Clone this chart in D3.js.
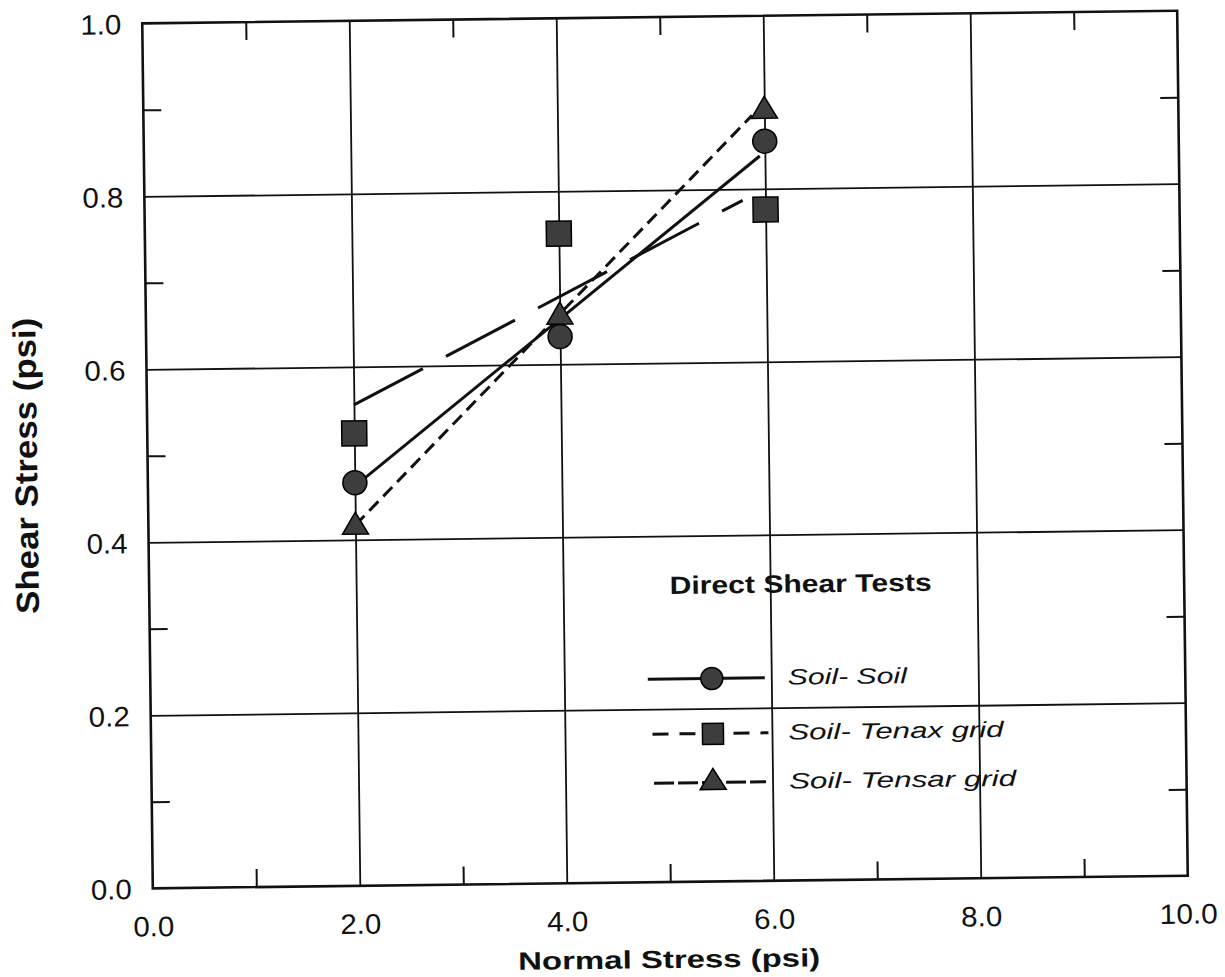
<!DOCTYPE html>
<html lang="en">
<head>
<meta charset="UTF-8">
<title>Direct Shear Tests</title>
<style>
  body { margin: 0; background: #fff; }
  text { font-family: "Liberation Sans", Arial, Helvetica, sans-serif; fill: #111; }
</style>
</head>
<body>
<div id="chart"></div>
<script src="https://d3js.org/d3.v7.min.js"></script>
<script>
// values
const normalStress = [2, 4, 6];
const soilSoil = [0.466, 0.632, 0.855];
const soilTenax = [0.523, 0.751, 0.776];
const soilTensar = [0.415, 0.655, 0.890];

// fitted lines, start and end points
const soilSoilFitX = [2, 5.95], soilSoilFitY = [0.462, 0.838];
const soilTenaxFitX = [2, 5.78], soilTenaxFitY = [0.556, 0.787];
const soilTensarFitX = [2, 5.88], soilTensarFitY = [0.417, 0.885];

const xTicks = [0, 2, 4, 6, 8, 10];
const yTicks = [0, 0.2, 0.4, 0.6, 0.8, 1.0];
const xMinor = [1, 3, 5, 7, 9];
const yMinor = [0.1, 0.3, 0.5, 0.7, 0.9];
const seriesNames = ["Soil- Soil", "Soil- Tenax grid", "Soil- Tensar grid"];

const margin = { left: 147.5, top: 17 },
  width = 1035,
  height = 865;

const svg = d3.select("#chart")
  .append("svg")
  .attr("width", 1225)
  .attr("height", 977);

// the original is a slightly tilted scan
const root = svg.append("g").attr("transform", "rotate(-0.7, 667, 450)");
const g = root.append("g").attr("transform", `translate(${margin.left},${margin.top})`);

const x = d3.scaleLinear().domain([0, 10]).range([0, width]);
const y = d3.scaleLinear().domain([0, 1]).range([height, 0]);

function clean(sel) {
  sel.select(".domain").remove();
  sel.selectAll("line").attr("stroke", "#111");
}

// grid lines
g.append("g")
  .call(d3.axisBottom(x).tickValues([2, 4, 6, 8]).tickSize(height).tickFormat(""))
  .call(clean)
  .selectAll("line").attr("stroke-width", 1.8);
g.append("g")
  .call(d3.axisLeft(y).tickValues([0.2, 0.4, 0.6, 0.8]).tickSize(-width).tickFormat(""))
  .call(clean)
  .selectAll("line").attr("stroke-width", 1.8);

// minor ticks, pointing inward on all four sides
g.append("g").attr("transform", `translate(0,${height})`)
  .call(d3.axisBottom(x).tickValues(xMinor).tickSize(-18).tickFormat(""))
  .call(clean).selectAll("line").attr("stroke-width", 2);
g.append("g")
  .call(d3.axisTop(x).tickValues(xMinor).tickSize(-18).tickFormat(""))
  .call(clean).selectAll("line").attr("stroke-width", 2);
g.append("g")
  .call(d3.axisLeft(y).tickValues(yMinor).tickSize(-18).tickFormat(""))
  .call(clean).selectAll("line").attr("stroke-width", 2);
g.append("g").attr("transform", `translate(${width},0)`)
  .call(d3.axisRight(y).tickValues(yMinor).tickSize(-18).tickFormat(""))
  .call(clean).selectAll("line").attr("stroke-width", 2);

// frame
g.append("rect")
  .attr("width", width)
  .attr("height", height)
  .attr("fill", "none")
  .attr("stroke", "#111")
  .attr("stroke-width", 2.6);

// tick labels
const xAx = g.append("g").attr("transform", `translate(0,${height})`)
  .call(d3.axisBottom(x).tickValues(xTicks).tickSize(0).tickFormat(d3.format(".1f")))
  .call(clean);
xAx.attr("font-family", null).attr("font-size", null);
xAx.selectAll("text")
  .attr("dy", null)
  .attr("y", 48)
  .style("font-size", "28px")
  .attr("textLength", d => d === 10 ? 58 : 41)
  .attr("lengthAdjust", "spacingAndGlyphs");

const yAx = g.append("g")
  .call(d3.axisLeft(y).tickValues(yTicks).tickSize(0).tickPadding(21).tickFormat(d3.format(".1f")))
  .call(clean);
yAx.attr("font-family", null).attr("font-size", null);
yAx.selectAll("text")
  .attr("dy", "0.36em")
  .style("font-size", "28px")
  .attr("textLength", 41)
  .attr("lengthAdjust", "spacingAndGlyphs");

// axis titles
root.append("text")
  .attr("x", 663)
  .attr("y", 968)
  .attr("text-anchor", "middle")
  .style("font-size", "25px")
  .style("font-weight", "bold")
  .attr("textLength", 302)
  .attr("lengthAdjust", "spacingAndGlyphs")
  .text("Normal Stress (psi)");

root.append("text")
  .attr("transform", "translate(37,458) rotate(-90)")
  .attr("text-anchor", "middle")
  .style("font-size", "32px")
  .style("font-weight", "bold")
  .attr("textLength", 296)
  .attr("lengthAdjust", "spacingAndGlyphs")
  .text("Shear Stress (psi)");

// fitted lines
const line = d3.line().x(d => x(d[0])).y(d => y(d[1]));
const fits = [
  { pts: d3.zip(soilSoilFitX, soilSoilFitY), dash: null },
  { pts: d3.zip(soilTenaxFitX, soilTenaxFitY), dash: "78,26" },
  { pts: d3.zip(soilTensarFitX, soilTensarFitY), dash: "13,7" }
];
g.selectAll(".fit")
  .data(fits)
  .join("path")
  .attr("class", "fit")
  .attr("d", d => line(d.pts))
  .attr("fill", "none")
  .attr("stroke", "#111")
  .attr("stroke-width", 3)
  .attr("stroke-dasharray", d => d.dash);

// markers
const markFill = "#3d3d3d";
function tri(b, h) {
  return `M0,${-h * 2 / 3}L${b / 2},${h / 3}L${-b / 2},${h / 3}Z`;
}

g.selectAll(".sq")
  .data(d3.zip(normalStress, soilTenax))
  .join("rect")
  .attr("x", d => x(d[0]) - 12.5)
  .attr("y", d => y(d[1]) - 12.5)
  .attr("width", 25)
  .attr("height", 25)
  .attr("fill", markFill)
  .attr("stroke", "#000")
  .attr("stroke-width", 1.5);

g.selectAll(".tri")
  .data(d3.zip(normalStress, soilTensar))
  .join("path")
  .attr("transform", d => `translate(${x(d[0])},${y(d[1])})`)
  .attr("d", tri(26, 22))
  .attr("fill", markFill)
  .attr("stroke", "#000")
  .attr("stroke-width", 1.5);

g.selectAll(".dot")
  .data(d3.zip(normalStress, soilSoil))
  .join("circle")
  .attr("cx", d => x(d[0]))
  .attr("cy", d => y(d[1]))
  .attr("r", 12)
  .attr("fill", markFill)
  .attr("stroke", "#000")
  .attr("stroke-width", 1.5);

// legend
root.append("text")
  .attr("x", 799)
  .attr("y", 594)
  .attr("text-anchor", "middle")
  .style("font-size", "25px")
  .style("font-weight", "bold")
  .attr("textLength", 262)
  .attr("lengthAdjust", "spacingAndGlyphs")
  .text("Direct Shear Tests");

const rowY = [679, 734, 783];
const rowLine = [[645, 762, null], [649, 765, "16,11"], [650, 762, "20,4"]];
const rowLen = [119, 215, 227];
const leg = root.append("g");
seriesNames.forEach((name, i) => {
  leg.append("line")
    .attr("x1", rowLine[i][0]).attr("x2", rowLine[i][1])
    .attr("y1", rowY[i]).attr("y2", rowY[i])
    .attr("stroke", "#111")
    .attr("stroke-width", 3)
    .attr("stroke-dasharray", rowLine[i][2]);
  if (i === 0) {
    leg.append("circle").attr("cx", 709).attr("cy", rowY[i]).attr("r", 11)
      .attr("fill", markFill).attr("stroke", "#000").attr("stroke-width", 1.5);
  } else if (i === 1) {
    leg.append("rect").attr("x", 699).attr("y", rowY[i] - 10).attr("width", 21).attr("height", 21)
      .attr("fill", markFill).attr("stroke", "#000").attr("stroke-width", 1.5);
  } else {
    leg.append("path").attr("transform", `translate(709,${rowY[i]})`).attr("d", tri(26, 21))
      .attr("fill", markFill).attr("stroke", "#000").attr("stroke-width", 1.5);
  }
  leg.append("text")
    .attr("x", 785)
    .attr("y", rowY[i] + 7)
    .style("font-size", "22px")
    .style("font-style", "italic")
    .attr("textLength", rowLen[i])
    .attr("lengthAdjust", "spacingAndGlyphs")
    .text(name);
});
</script>
</body>
</html>
